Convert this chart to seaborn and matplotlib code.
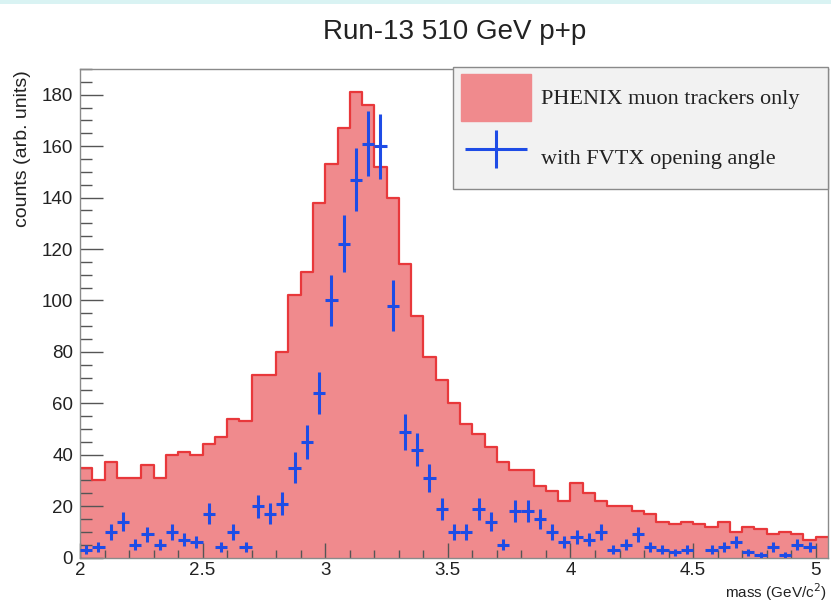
import numpy as np
import pandas as pd
import matplotlib
matplotlib.use("Agg")
import matplotlib.pyplot as plt
import seaborn as sns
from matplotlib.patches import Patch, Rectangle
from matplotlib.legend_handler import HandlerErrorbar
from matplotlib.ticker import MultipleLocator, FuncFormatter

# Dimuon invariant-mass spectrum, 0.05 GeV/c^2 bins from 2.00 to 5.05
mass_lo = 2.0
bin_width = 0.05

muon_tracker_counts = [
    35, 30, 37, 31, 31, 36, 31, 40, 41, 40,
    44, 47, 54, 53, 71, 71, 80, 102, 111, 138,
    153, 167, 181, 176, 152, 140, 114, 94, 78, 69,
    60, 52, 48, 43, 37, 34, 34, 28, 26, 22,
    29, 25, 22, 20, 20, 18, 17, 14, 13, 14,
    13, 12, 14, 10, 12, 11, 9, 10, 9, 7,
    8,
]

fvtx_counts = [
    3, 4, 10, 14, 5, 9, 5, 10, 7, 6,
    17, 4, 10, 4, 20, 17, 21, 35, 45, 64,
    100, 122, 147, 161, 160, 98, 49, 42, 31, 19,
    10, 10, 19, 14, 5, 18, 18, 15, 10, 6,
    8, 7, 10, 3, 5, 9, 4, 3, 2, 3,
    0, 3, 4, 6, 2, 1, 4, 1, 5, 4,
    0,
]

title = "Run-13 510 GeV p+p"
label_muon = "PHENIX muon trackers only"
label_fvtx = "with FVTX opening angle"
x_label = "mass (GeV/c$^{2}$)"
y_label = "counts (arb. units)"

fill_red = "#F08A8D"
line_red = "#E8383B"
point_blue = "#1E4CE6"
text_col = "#222222"

n_bins = len(muon_tracker_counts)
edges = np.round(mass_lo + bin_width * np.arange(n_bins + 1), 4)
centers = edges[:-1] + bin_width / 2
muon = np.array(muon_tracker_counts, dtype=float)
fvtx = np.array(fvtx_counts, dtype=float)
hist_df = pd.DataFrame({"mass": centers, "counts": muon})
bin_list = edges.tolist()

W, H = 831, 603
fig = plt.figure(figsize=(W / 100, H / 100), dpi=100)
fig.patch.set_facecolor("white")
# thin tinted strip along the top edge
fig.add_artist(Rectangle((0, 1 - 4 / H), 1, 4 / H, transform=fig.transFigure,
                         facecolor="#D9F3F3", edgecolor="none"))

ax_l, ax_r, ax_t, ax_b = 80, 828, 69, 557.6
ax = fig.add_axes([ax_l / W, 1 - ax_b / H, (ax_r - ax_l) / W, (ax_b - ax_t) / H])

# filled histogram plus its outline
sns.histplot(data=hist_df, x="mass", weights="counts", bins=bin_list,
             element="step", fill=True, color=fill_red, alpha=1.0,
             linewidth=0, ax=ax)
sns.histplot(data=hist_df, x="mass", weights="counts", bins=bin_list,
             element="step", fill=False, color=line_red, linewidth=1.6, ax=ax)

# points with Poisson errors and half-bin horizontal bars
keep = fvtx > 0
eb = ax.errorbar(centers[keep], fvtx[keep], xerr=bin_width / 2,
                 yerr=np.sqrt(fvtx[keep]), fmt="none", ecolor=point_blue,
                 elinewidth=2.2, capsize=0, zorder=5)

ax.set_xlim(mass_lo, edges[-1])
ax.set_ylim(0, 190)

ax.xaxis.set_major_locator(MultipleLocator(0.5))
ax.xaxis.set_minor_locator(MultipleLocator(0.1))
ax.yaxis.set_major_locator(MultipleLocator(20))
ax.yaxis.set_minor_locator(MultipleLocator(5))
ax.xaxis.set_major_formatter(FuncFormatter(lambda v, p: f"{v:g}"))
ax.yaxis.set_major_formatter(FuncFormatter(lambda v, p: f"{v:g}"))

ax.tick_params(which="both", direction="in", top=False, right=False,
               color="#555555", labelcolor=text_col)
ax.tick_params(axis="y", which="major", length=16.5, width=1.0, pad=5, labelsize=13.5)
ax.tick_params(axis="y", which="minor", length=8.5, width=1.0)
ax.tick_params(axis="x", which="major", length=11, width=1.0, pad=3, labelsize=13.5)
ax.tick_params(axis="x", which="minor", length=5.5, width=1.0)
for lab in ax.get_xticklabels() + ax.get_yticklabels():
    lab.set_fontfamily("Liberation Sans")

for sp in ax.spines.values():
    sp.set_color("#8A8A8A")
    sp.set_linewidth(1.0)

ax.set_xlabel(x_label, loc="right", fontsize=11, color=text_col,
              fontfamily="Liberation Sans")
ax.xaxis.set_label_coords(0.998, -0.048)
ax.set_ylabel(y_label, loc="top", fontsize=14, color=text_col,
              fontfamily="Liberation Sans")
ax.yaxis.set_label_coords(-0.066, 0.998)

fig.text(455 / W, 1 - 32 / H, title, ha="center", va="center", fontsize=20,
         color=text_col, fontfamily="Liberation Sans")

handles = [Patch(facecolor=fill_red, edgecolor=fill_red), eb]
leg = ax.legend(handles, [label_muon, label_fvtx], loc="upper left",
                bbox_to_anchor=(0.4987, 0.5, 0.5013, 0.505), mode="expand",
                borderaxespad=0, fancybox=False, frameon=True,
                prop={"family": "Liberation Serif", "size": 16},
                handlelength=3.15, handleheight=2.85, handletextpad=0.45,
                labelspacing=0.6, borderpad=0.35,
                handler_map={eb: HandlerErrorbar(xerr_size=1.4, yerr_size=0.85)})
frame = leg.get_frame()
frame.set_facecolor("#F2F2F2")
frame.set_edgecolor("#8A8A8A")
frame.set_linewidth(1.0)
frame.set_alpha(1.0)
for t in leg.get_texts():
    t.set_color(text_col)

fig.savefig("out.png", dpi=100)
